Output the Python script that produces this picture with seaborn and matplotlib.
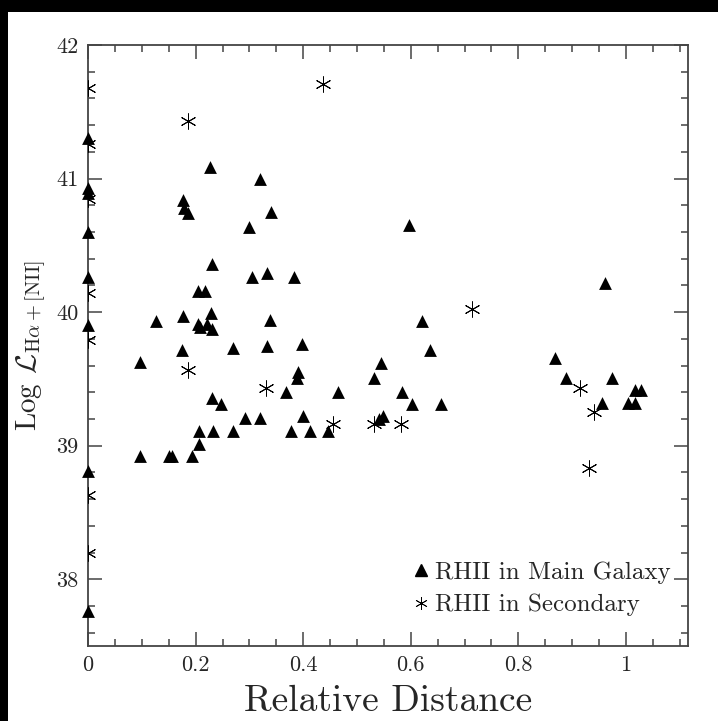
import matplotlib
matplotlib.use("Agg")
import matplotlib.pyplot as plt
from matplotlib.lines import Line2D
from matplotlib.patches import Rectangle
from matplotlib.ticker import MultipleLocator, FormatStrFormatter
import seaborn as sns
import pandas as pd

# Main galaxy HII regions (relative distance, log L)
main_x = [0, 0, 0, 0, 0, 0, 0, 0,
          0.096, 0.096, 0.126, 0.150, 0.157, 0.174, 0.176, 0.176, 0.178, 0.185,
          0.194, 0.204, 0.217, 0.204, 0.209, 0.222, 0.229, 0.231, 0.206, 0.207,
          0.226, 0.231, 0.231, 0.248, 0.233, 0.269, 0.270, 0.291, 0.300, 0.305,
          0.319, 0.319, 0.333, 0.333, 0.339, 0.341, 0.368, 0.378, 0.383, 0.389,
          0.391, 0.398, 0.400, 0.413, 0.446, 0.465, 0.531, 0.541, 0.548, 0.544,
          0.583, 0.596, 0.603, 0.620, 0.635, 0.657, 0.868, 0.889, 0.955, 0.961,
          0.974, 1.004, 1.017, 1.017, 1.028]
main_y = [41.30, 40.93, 40.89, 40.60, 40.26, 39.90, 38.81, 37.76,
          39.63, 38.92, 39.93, 38.92, 38.92, 39.72, 39.97, 40.84, 40.78, 40.74,
          38.92, 40.16, 40.16, 39.91, 39.89, 39.91, 39.99, 39.87, 39.01, 39.11,
          41.09, 40.36, 39.36, 39.31, 39.11, 39.11, 39.73, 39.21, 40.64, 40.26,
          41.00, 39.21, 40.29, 39.75, 39.94, 40.75, 39.40, 39.11, 40.26, 39.51,
          39.55, 39.76, 39.22, 39.11, 39.11, 39.40, 39.51, 39.20, 39.22, 39.62,
          39.40, 40.65, 39.31, 39.93, 39.72, 39.31, 39.66, 39.51, 39.32, 40.22,
          39.51, 39.32, 39.32, 39.42, 39.42]

# Secondary galaxy HII regions
sec_x = [0, 0, 0, 0, 0, 0, 0,
         0.185, 0.185, 0.331, 0.437, 0.455, 0.531, 0.581, 0.713, 0.915, 0.931, 0.941]
sec_y = [41.68, 41.26, 40.85, 40.14, 39.79, 38.63, 38.20,
         41.43, 39.57, 39.43, 41.71, 39.16, 39.16, 39.16, 40.02, 39.43, 38.83, 39.25]

legend_labels = ["RHII in Main Galaxy", "RHII in Secondary"]
x_label = "Relative Distance"
y_label = r"Log $\mathcal{L}_{\rm H\alpha+[NII]}$"

sns.set_style("ticks")
plt.rcParams["font.family"] = ["cmr10", "DejaVu Serif"]
plt.rcParams["mathtext.fontset"] = "cm"
plt.rcParams["axes.formatter.use_mathtext"] = True

df_main = pd.DataFrame({"x": main_x, "y": main_y})
df_sec = pd.DataFrame({"x": sec_x, "y": sec_y})

fig = plt.figure(figsize=(7.18, 7.21), dpi=100, facecolor="white")
ax = fig.add_axes([0.1226, 0.104, 0.8354, 0.8336])

star = (6, 2, 0)
sns.scatterplot(data=df_main, x="x", y="y", marker="^", color="black",
                s=85, linewidth=0, ax=ax, clip_on=False, zorder=3)
sns.scatterplot(data=df_sec, x="x", y="y", marker=star, color="black",
                s=120, linewidth=0.7, ax=ax, zorder=3)

ax.set_xlim(0, 1.115)
ax.set_ylim(37.5, 42)
ax.xaxis.set_major_locator(MultipleLocator(0.2))
ax.xaxis.set_minor_locator(MultipleLocator(0.05))
ax.yaxis.set_major_locator(MultipleLocator(1))
ax.yaxis.set_minor_locator(MultipleLocator(0.2))
ax.xaxis.set_major_formatter(FormatStrFormatter("%g"))
ax.yaxis.set_major_formatter(FormatStrFormatter("%g"))

spine_color = "#444444"
for sp in ax.spines.values():
    sp.set_visible(True)
    sp.set_color(spine_color)
    sp.set_linewidth(1.3)
ax.tick_params(which="both", direction="in", top=True, right=True,
               color=spine_color, width=1.1, labelsize=16, pad=7)
ax.tick_params(which="major", length=10)
ax.tick_params(which="minor", length=5)

ax.set_xlabel(x_label, fontsize=27, labelpad=7)
ax.set_ylabel(y_label, fontsize=21, labelpad=6)

handles = [
    Line2D([], [], marker="^", color="black", linestyle="none", markersize=8),
    Line2D([], [], marker=star, color="black", linestyle="none", markersize=9,
           markeredgewidth=0.6),
]
ax.legend(handles, legend_labels, loc="lower right", frameon=False,
          fontsize=18, handletextpad=0.1, handlelength=0.9,
          labelspacing=0.4, borderaxespad=0.3, bbox_to_anchor=(1.0, 0.02))

# black border strips along the top and left edge
fig.patches.append(Rectangle((0, 0), 8 / 718, 1, transform=fig.transFigure,
                             facecolor="black", edgecolor="none", zorder=-1))
fig.patches.append(Rectangle((0, 1 - 12 / 721), 1, 12 / 721, transform=fig.transFigure,
                             facecolor="black", edgecolor="none", zorder=-1))

fig.savefig("out.png", dpi=100, facecolor="white")
